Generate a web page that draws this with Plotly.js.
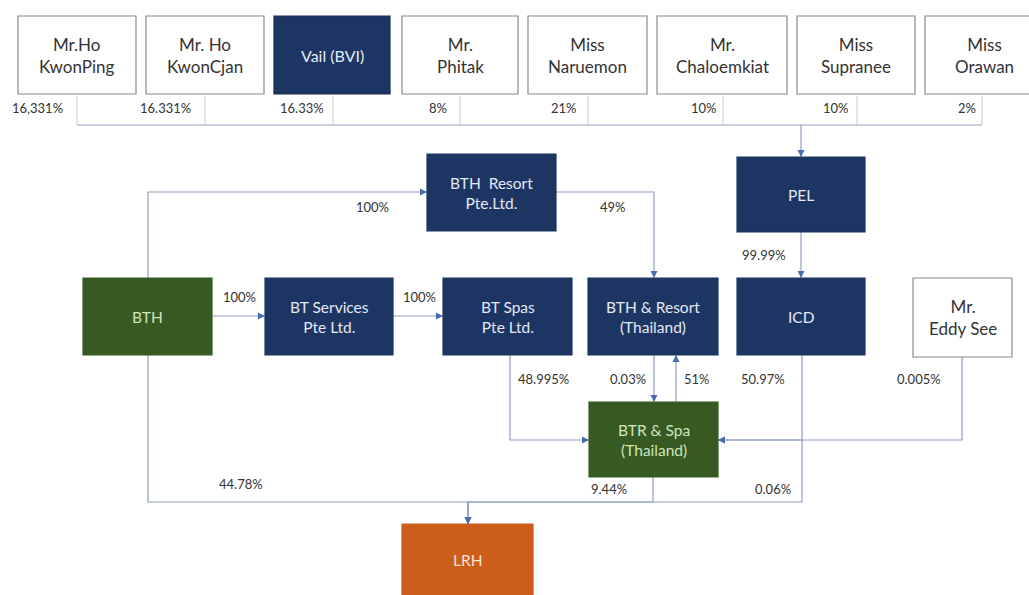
<!DOCTYPE html>
<html><head><meta charset="utf-8">
<script src="https://cdn.plot.ly/plotly-3.0.1.min.js"></script>
<style>html,body{margin:0;padding:0;background:#fff;}#chart{width:1029px;height:595px;}</style>
</head><body><div id="chart"></div>
<script>
// ---------------- data ----------------
const shareholders = ["Mr.Ho<br>KwonPing","Mr. Ho<br>KwonCjan","Vail (BVI)","Mr.<br>Phitak","Miss<br>Naruemon","Mr.<br>Chaloemkiat","Miss<br>Supranee","Miss<br>Orawan"];
const shareholderStakeInPEL = ["16,331%","16.331%","16.33%","8%","21%","10%","10%","2%"];
const shareholderKind = ["person","person","company","person","person","person","person","person"];

const entityIds = ["PEL","BTHR","BTH","BTS","BTSP","BTHRT","ICD","EDDY","BTRS","LRH"];
const entityLabels = ["PEL","BTH  Resort<br>Pte.Ltd.","BTH","BT Services<br>Pte Ltd.","BT Spas<br>Pte Ltd.","BTH & Resort<br>(Thailand)","ICD","Mr.<br>Eddy See","BTR & Spa<br>(Thailand)","LRH"];
const entityKind = ["company","company","holding","company","company","company","company","person","holding","listed"];

const linkFrom = ["PEL","BTH","BTH","BTS","BTHR","BTSP","BTHRT","BTRS","ICD","EDDY","BTH","BTRS","ICD"];
const linkTo   = ["ICD","BTHR","BTS","BTSP","BTHRT","BTRS","BTRS","BTHRT","BTRS","BTRS","LRH","LRH","LRH"];
const linkPct  = ["99.99%","100%","100%","100%","49%","48.995%","0.03%","51%","50.97%","0.005%","44.78%","9.44%","0.06%"];

// ---------------- layout tables (positions / styles) ----------------
const shareholderBox = [[18,136],[146,264],[274,390],[402,518],[528,647],[657,787],[797,915],[925,1043]];
const shareholderBoxY = [16,94];
const stakeLabelX = [37,165,302,438,564,704,836,967];
const stakeLabelY = 108;
const stakeTickX = [77,205,333,460,588,723,857,982];
const busY = 125, pelDropX = 801;

const entityBox = {
  PEL:[737,865,157,232], BTHR:[427,556,154,231], BTH:[83,212,278,355], BTS:[265,393,278,355],
  BTSP:[443,572,278,355], BTHRT:[588,718,278,355], ICD:[737,865,278,355], EDDY:[913,1012,278,357],
  BTRS:[589,718,402,477], LRH:[402,533,524,600]
};
const routes = [
  [[801,232],[801,278]],
  [[148,278],[148,192],[427,192]],
  [[212,316],[265,316]],
  [[393,316],[443,316]],
  [[556,192],[654,192],[654,278]],
  [[510,355],[510,440],[589,440]],
  [[654,355],[654,402]],
  [[676,402],[676,355]],
  [[802,355],[802,440],[718,440]],
  [[962,357],[962,440],[718,440]],
  [[148,355],[148,502],[468,502],[468,524]],
  [[653,477],[653,502],[468,502],[468,524]],
  [[802,440],[802,502],[468,502],[468,524]]
];
const linkLabelPos = [[764,255],[372,207],[239,297],[419,297],[613,207],[543,379],[628,379],[697,379],[763,379],[919,379],[241,484],[609,489],[773,489]];

const fills = {company:"#1d3563", holding:"#375a23", listed:"#cc5d1a", person:"#ffffff"};
const textCol = {company:"#e4e9f3", holding:"#cfe5bd", listed:"#fbe3d2", person:"#333333"};
const FONT = "Lato, 'Open Sans', sans-serif";
const lineCol = "#8f9fc2", arrowCol = "#4a6cb3";

// ---------------- build ----------------
const shapes = [], annotations = [];

function addArrow(tip, tail){
  const dx = tail[0]-tip[0], dy = tail[1]-tip[1];
  const len = Math.hypot(dx,dy) || 1;
  annotations.push({x:tip[0], y:tip[1], ax:tip[0]+dx/len*6, ay:tip[1]+dy/len*6,
    xref:'x', yref:'y', axref:'x', ayref:'y', text:'', showarrow:true,
    arrowhead:2, arrowsize:1, arrowwidth:1.4, arrowcolor:arrowCol, standoff:0});
}
function addPath(pts, col, w){
  let p = "M" + pts.map(q=>q[0]+","+q[1]).join(" L");
  shapes.push({type:'path', xref:'x', yref:'y', path:p, line:{color:col, width:w}, layer:'below'});
}

// shareholders
shareholders.forEach((name,i)=>{
  const k = shareholderKind[i];
  const [x0,x1] = shareholderBox[i];
  shapes.push({type:'rect', xref:'x', yref:'y', x0:x0, x1:x1, y0:shareholderBoxY[0], y1:shareholderBoxY[1],
    fillcolor:fills[k], line:{color: k==='person' ? '#8a8a8a' : '#1a2f57', width:1.2}});
  annotations.push({x:(x0+x1)/2, y:(shareholderBoxY[0]+shareholderBoxY[1])/2, xref:'x', yref:'y', text:name,
    showarrow:false, font:{family:FONT, size: k==='person'?17:16, color:textCol[k]}, align:'center'});
  annotations.push({x:stakeLabelX[i], y:stakeLabelY, xref:'x', yref:'y', text:shareholderStakeInPEL[i],
    showarrow:false, font:{family:FONT, size:13, color:'#333333'}});
  addPath([[stakeTickX[i], shareholderBoxY[1]+2],[stakeTickX[i], busY]], '#c4c8d2', 1);
});
addPath([[stakeTickX[0],busY],[stakeTickX[stakeTickX.length-1],busY]], lineCol, 1.2);
addPath([[pelDropX,busY],[pelDropX,entityBox.PEL[2]]], lineCol, 1.2);
addArrow([pelDropX,entityBox.PEL[2]],[pelDropX,busY]);

// entities
entityIds.forEach((id,i)=>{
  const k = entityKind[i];
  const b = entityBox[id];
  shapes.push({type:'rect', xref:'x', yref:'y', x0:b[0], x1:b[1], y0:b[2], y1:b[3],
    fillcolor:fills[k], line:{color: k==='person' ? '#8a8a8a' : fills[k], width:1.2}});
  const cy = id==='LRH' ? 560 : (b[2]+b[3])/2;
  annotations.push({x:(b[0]+b[1])/2, y:cy, xref:'x', yref:'y', text:entityLabels[i],
    showarrow:false, font:{family:FONT, size: k==='person'?17:15.5, color:textCol[k]}, align:'center'});
});

// links
linkPct.forEach((pct,i)=>{
  const r = routes[i];
  addPath(r, lineCol, 1.2);
  addArrow(r[r.length-1], r[r.length-2]);
  annotations.push({x:linkLabelPos[i][0], y:linkLabelPos[i][1], xref:'x', yref:'y', text:pct,
    showarrow:false, font:{family:FONT, size:13, color:'#333333'}});
});

const layout = {
  width:1029, height:595, margin:{l:0,r:0,t:0,b:0},
  paper_bgcolor:'#ffffff', plot_bgcolor:'#ffffff', showlegend:false,
  xaxis:{range:[0,1029], visible:false, fixedrange:true},
  yaxis:{range:[595,0], visible:false, fixedrange:true},
  shapes:shapes, annotations:annotations
};
Plotly.newPlot('chart', [{x:[0],y:[0],mode:'markers',marker:{opacity:0},hoverinfo:'skip'}], layout, {staticPlot:true, displayModeBar:false});
</script>
</body></html>
